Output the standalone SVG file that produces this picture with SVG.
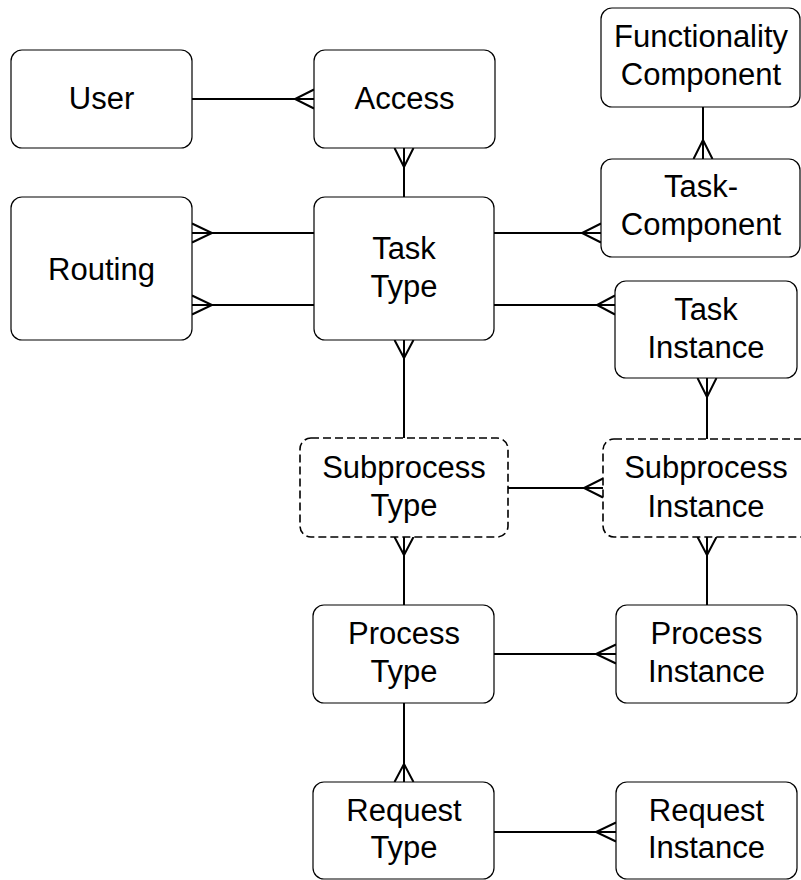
<svg xmlns="http://www.w3.org/2000/svg" width="801" height="880" viewBox="0 0 801 880">
  <style>
    .box { fill: #ffffff; stroke: #000000; stroke-width: 1.2; }
    .dashed { fill: #ffffff; stroke: #000000; stroke-width: 1.6; stroke-dasharray: 8 4; }
    .lbl { font-family: "Liberation Sans", Arial, sans-serif; font-size: 31px; fill: #000000; text-anchor: middle; }
    .conn line { stroke: #000000; stroke-width: 2; }
    .conn path { fill: none; stroke: #000000; stroke-width: 2; }
  </style>
  <rect width="801" height="880" fill="#ffffff"/>

  <!-- relationships: plain line plus crow's foot on the "many" side -->
  <g id="connectors" class="conn">
    <line x1="192" y1="99" x2="314" y2="99"/>
    <path d="M314,89.5 L295,99 L314,108.5"/>

    <line x1="404" y1="148" x2="404" y2="197"/>
    <path d="M394.5,148 L404,167 L413.5,148"/>

    <line x1="192" y1="233" x2="314" y2="233"/>
    <path d="M192,223.5 L212,233 L192,242.5"/>

    <line x1="192" y1="305" x2="314" y2="305"/>
    <path d="M192,295.5 L212,305 L192,314.5"/>

    <line x1="494" y1="233" x2="601" y2="233"/>
    <path d="M601,223.5 L582,233 L601,242.5"/>

    <line x1="703" y1="107" x2="703" y2="159"/>
    <path d="M693.5,159 L703,140 L712.5,159"/>

    <line x1="494" y1="305" x2="615" y2="305"/>
    <path d="M615,295.5 L597,305 L615,314.5"/>

    <line x1="404" y1="340" x2="404" y2="438"/>
    <path d="M394.5,340 L404,358 L413.5,340"/>

    <line x1="707" y1="378" x2="707" y2="439"/>
    <path d="M697.5,378 L707,397 L716.5,378"/>

    <line x1="508" y1="488" x2="603" y2="488"/>
    <path d="M603,478.5 L584,488 L603,497.5"/>

    <line x1="404" y1="537" x2="404" y2="605"/>
    <path d="M394.5,537 L404,555 L413.5,537"/>

    <line x1="707" y1="537" x2="707" y2="605"/>
    <path d="M697.5,537 L707,555 L716.5,537"/>

    <line x1="494" y1="654" x2="616" y2="654"/>
    <path d="M616,644.5 L596,654 L616,663.5"/>

    <line x1="404" y1="703" x2="404" y2="782"/>
    <path d="M394.5,782 L404,764 L413.5,782"/>

    <line x1="494" y1="832" x2="616" y2="832"/>
    <path d="M616,822.5 L596,832 L616,841.5"/>
  </g>

  <g id="user">
    <rect class="box" x="11" y="50" width="181" height="98" rx="11"/>
    <text class="lbl" x="101.5" y="109">User</text>
  </g>
  <g id="access">
    <rect class="box" x="314" y="50" width="181" height="98" rx="11"/>
    <text class="lbl" x="404.5" y="109">Access</text>
  </g>
  <g id="functionality-component">
    <rect class="box" x="601" y="8" width="199" height="99" rx="11"/>
    <text class="lbl" x="701" y="47">Functionality</text>
    <text class="lbl" x="701" y="85">Component</text>
  </g>
  <g id="task-component">
    <rect class="box" x="601" y="159" width="199" height="98" rx="11"/>
    <text class="lbl" x="701" y="197">Task-</text>
    <text class="lbl" x="701" y="235">Component</text>
  </g>
  <g id="routing">
    <rect class="box" x="11" y="197" width="181" height="143" rx="11"/>
    <text class="lbl" x="101.5" y="280">Routing</text>
  </g>
  <g id="task-type">
    <rect class="box" x="314" y="197" width="180" height="143" rx="11"/>
    <text class="lbl" x="404" y="259">Task</text>
    <text class="lbl" x="404" y="297">Type</text>
  </g>
  <g id="task-instance">
    <rect class="box" x="615" y="281" width="182" height="97" rx="11"/>
    <text class="lbl" x="706" y="320">Task</text>
    <text class="lbl" x="706" y="358">Instance</text>
  </g>
  <g id="subprocess-type">
    <rect class="dashed" x="300" y="438" width="208" height="99" rx="11"/>
    <text class="lbl" x="404" y="478">Subprocess</text>
    <text class="lbl" x="404" y="516">Type</text>
  </g>
  <g id="subprocess-instance">
    <rect class="dashed" x="603" y="439" width="208" height="98" rx="11"/>
    <text class="lbl" x="706" y="478">Subprocess</text>
    <text class="lbl" x="706" y="517">Instance</text>
  </g>
  <g id="process-type">
    <rect class="box" x="313" y="605" width="181" height="98" rx="11"/>
    <text class="lbl" x="404" y="644">Process</text>
    <text class="lbl" x="404" y="682">Type</text>
  </g>
  <g id="process-instance">
    <rect class="box" x="616" y="605" width="181" height="98" rx="11"/>
    <text class="lbl" x="706.5" y="644">Process</text>
    <text class="lbl" x="706.5" y="682">Instance</text>
  </g>
  <g id="request-type">
    <rect class="box" x="313" y="782" width="181" height="97" rx="11"/>
    <text class="lbl" x="404" y="821">Request</text>
    <text class="lbl" x="404" y="858">Type</text>
  </g>
  <g id="request-instance">
    <rect class="box" x="616" y="782" width="181" height="97" rx="11"/>
    <text class="lbl" x="706.5" y="821">Request</text>
    <text class="lbl" x="706.5" y="858">Instance</text>
  </g>
</svg>
